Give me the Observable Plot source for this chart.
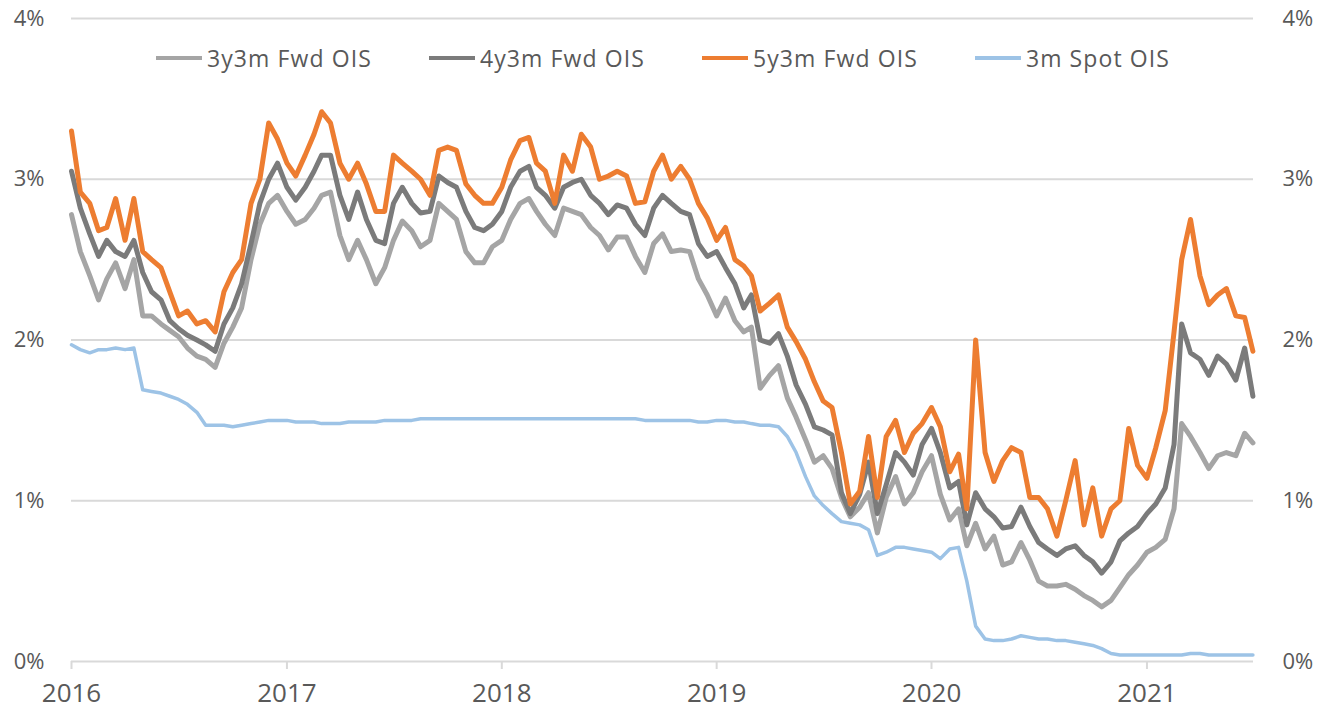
<!DOCTYPE html>
<html><head><meta charset="utf-8">
<script src="https://cdn.jsdelivr.net/npm/d3@7"></script>
<script src="https://cdn.jsdelivr.net/npm/@observablehq/plot@0.6"></script>
<style>
body{margin:0;background:#fff;}
#wrap{position:relative;width:1326px;height:709px;}
#legend{position:absolute;top:42px;left:0;width:1326px;display:flex;justify-content:center;gap:57px;font-family:"Open Sans";font-size:23px;letter-spacing:1.1px;color:#595959;}
.item{display:flex;align-items:center;}
.sw{width:46px;height:4px;margin-right:5px;}
</style></head>
<body><div id="wrap"><div id="legend"></div></div>
<script>
const dates = (
"2016-01-01 2016-01-16 2016-02-01 2016-02-16 2016-03-01 2016-03-16 2016-04-01 2016-04-16 2016-05-01 2016-05-16 2016-06-01 2016-06-16 " +
"2016-07-01 2016-07-16 2016-08-01 2016-08-16 2016-09-01 2016-09-16 2016-10-01 2016-10-16 2016-11-01 2016-11-16 2016-12-01 2016-12-16 " +
"2017-01-01 2017-01-16 2017-02-01 2017-02-16 2017-03-01 2017-03-16 2017-04-01 2017-04-16 2017-05-01 2017-05-16 2017-06-01 2017-06-16 " +
"2017-07-01 2017-07-16 2017-08-01 2017-08-16 2017-09-01 2017-09-16 2017-10-01 2017-10-16 2017-11-01 2017-11-16 2017-12-01 2017-12-16 " +
"2018-01-01 2018-01-16 2018-02-01 2018-02-16 2018-03-01 2018-03-16 2018-04-01 2018-04-16 2018-05-01 2018-05-16 2018-06-01 2018-06-16 " +
"2018-07-01 2018-07-16 2018-08-01 2018-08-16 2018-09-01 2018-09-16 2018-10-01 2018-10-16 2018-11-01 2018-11-16 2018-12-01 2018-12-16 " +
"2019-01-01 2019-01-16 2019-02-01 2019-02-16 2019-03-01 2019-03-16 2019-04-01 2019-04-16 2019-05-01 2019-05-16 2019-06-01 2019-06-16 " +
"2019-07-01 2019-07-16 2019-08-01 2019-08-16 2019-09-01 2019-09-16 2019-10-01 2019-10-16 2019-11-01 2019-11-16 2019-12-01 2019-12-16 " +
"2020-01-01 2020-01-16 2020-02-01 2020-02-16 2020-03-01 2020-03-16 2020-04-01 2020-04-16 2020-05-01 2020-05-16 2020-06-01 2020-06-16 " +
"2020-07-01 2020-07-16 2020-08-01 2020-08-16 2020-09-01 2020-09-16 2020-10-01 2020-10-16 2020-11-01 2020-11-16 2020-12-01 2020-12-16 " +
"2021-01-01 2021-01-16 2021-02-01 2021-02-16 2021-03-01 2021-03-16 2021-04-01 2021-04-16 2021-05-01 2021-05-16 2021-06-01 2021-06-16 2021-06-30"
).split(" ");

const fwd3y3m = [
 2.78,2.55,2.40,2.25,2.38,2.48,2.32,2.50,2.15,2.15,2.10,2.06,2.02,1.95,1.90,1.88,1.83,1.98,2.08,2.20,2.50,2.72,2.85,2.90,
 2.80,2.72,2.75,2.82,2.90,2.92,2.65,2.50,2.62,2.50,2.35,2.45,2.62,2.74,2.68,2.58,2.62,2.85,2.80,2.75,2.55,2.48,2.48,2.58,
 2.62,2.75,2.85,2.88,2.80,2.72,2.65,2.82,2.80,2.78,2.70,2.65,2.56,2.64,2.64,2.52,2.42,2.60,2.66,2.55,2.56,2.55,2.38,2.28,
 2.15,2.26,2.12,2.05,2.08,1.70,1.78,1.84,1.64,1.52,1.38,1.24,1.28,1.20,1.02,0.90,0.96,1.05,0.80,1.02,1.15,0.98,1.05,1.18,
 1.28,1.04,0.88,0.95,0.72,0.86,0.70,0.78,0.60,0.62,0.74,0.63,0.50,0.47,0.47,0.48,0.45,0.41,0.38,0.34,0.38,0.46,0.54,0.60,
 0.68,0.71,0.76,0.95,1.48,1.40,1.30,1.20,1.28,1.30,1.28,1.42,1.36
];
const fwd4y3m = [
 3.05,2.82,2.66,2.52,2.62,2.55,2.52,2.62,2.42,2.30,2.25,2.12,2.07,2.03,2.00,1.97,1.93,2.10,2.20,2.35,2.60,2.85,3.00,3.10,
 2.95,2.87,2.95,3.05,3.15,3.15,2.90,2.75,2.92,2.75,2.62,2.60,2.85,2.95,2.85,2.79,2.80,3.02,2.98,2.95,2.80,2.70,2.68,2.72,
 2.80,2.95,3.05,3.08,2.95,2.90,2.82,2.95,2.98,3.00,2.90,2.85,2.78,2.84,2.82,2.72,2.65,2.82,2.90,2.85,2.80,2.78,2.60,2.52,
 2.55,2.45,2.35,2.20,2.28,2.00,1.98,2.04,1.90,1.72,1.60,1.46,1.44,1.41,1.05,0.92,1.04,1.24,0.92,1.10,1.30,1.24,1.16,1.35,
 1.45,1.30,1.08,1.12,0.85,1.05,0.95,0.90,0.83,0.84,0.96,0.84,0.74,0.70,0.66,0.70,0.72,0.66,0.62,0.55,0.62,0.75,0.80,0.84,
 0.92,0.98,1.08,1.35,2.10,1.92,1.88,1.78,1.90,1.85,1.75,1.95,1.65
];
const fwd5y3m = [
 3.30,2.92,2.85,2.68,2.70,2.88,2.62,2.88,2.55,2.50,2.45,2.30,2.15,2.18,2.10,2.12,2.05,2.30,2.42,2.50,2.85,3.00,3.35,3.25,
 3.10,3.02,3.15,3.28,3.42,3.35,3.10,3.00,3.10,2.97,2.80,2.80,3.15,3.10,3.05,3.00,2.90,3.18,3.20,3.18,2.97,2.90,2.85,2.85,
 2.95,3.12,3.24,3.26,3.10,3.05,2.85,3.15,3.05,3.28,3.20,3.00,3.02,3.05,3.02,2.85,2.86,3.05,3.15,3.00,3.08,3.00,2.85,2.76,
 2.62,2.70,2.50,2.46,2.40,2.18,2.23,2.28,2.08,1.99,1.88,1.74,1.62,1.58,1.30,0.98,1.06,1.40,1.02,1.40,1.50,1.30,1.42,1.48,
 1.58,1.46,1.18,1.29,0.95,2.00,1.30,1.12,1.25,1.33,1.30,1.02,1.02,0.95,0.78,1.00,1.25,0.85,1.08,0.78,0.95,1.00,1.45,1.22,
 1.14,1.33,1.56,2.05,2.50,2.75,2.40,2.22,2.28,2.32,2.15,2.14,1.93
];
const spot3m = [
 1.97,1.94,1.92,1.94,1.94,1.95,1.94,1.95,1.69,1.68,1.67,1.65,1.63,1.60,1.55,1.47,1.47,1.47,1.46,1.47,1.48,1.49,1.50,1.50,
 1.50,1.49,1.49,1.49,1.48,1.48,1.48,1.49,1.49,1.49,1.49,1.50,1.50,1.50,1.50,1.51,1.51,1.51,1.51,1.51,1.51,1.51,1.51,1.51,
 1.51,1.51,1.51,1.51,1.51,1.51,1.51,1.51,1.51,1.51,1.51,1.51,1.51,1.51,1.51,1.51,1.50,1.50,1.50,1.50,1.50,1.50,1.49,1.49,
 1.50,1.50,1.49,1.49,1.48,1.47,1.47,1.46,1.40,1.30,1.15,1.03,0.97,0.92,0.87,0.86,0.85,0.82,0.66,0.68,0.71,0.71,0.70,0.69,
 0.68,0.64,0.70,0.71,0.50,0.22,0.14,0.13,0.13,0.14,0.16,0.15,0.14,0.14,0.13,0.13,0.12,0.11,0.10,0.08,0.05,0.04,0.04,0.04,
 0.04,0.04,0.04,0.04,0.04,0.05,0.05,0.04,0.04,0.04,0.04,0.04,0.04
];

const seriesNames = ["3y3m Fwd OIS","4y3m Fwd OIS","5y3m Fwd OIS","3m Spot OIS"];
const seriesColors = ["#a5a5a5","#7b7b7b","#ed7d31","#9dc3e6"];
const seriesValues = [fwd3y3m, fwd4y3m, fwd5y3m, spot3m];
const seriesWidths = [5, 5, 5, 3.5];
const yTicks = [0, 1, 2, 3, 4];
const xTicks = ["2016-01-01","2017-01-01","2018-01-01","2019-01-01","2020-01-01","2021-01-01"];

const parse = d3.utcParse("%Y-%m-%d");
const tables = seriesValues.map((vals, i) =>
  dates.map((d, j) => ({date: parse(d), value: vals[j], series: seriesNames[i]})));

const chart = Plot.plot({
  width: 1326, height: 709,
  marginLeft: 71, marginRight: 73, marginTop: 18, marginBottom: 48,
  style: {fontFamily: "Open Sans", fontSize: "22px", color: "#595959", background: "#fff", overflow: "visible"},
  x: {type: "utc", domain: [parse("2016-01-01"), parse("2021-07-01")]},
  y: {domain: [0, 4]},
  marks: [
    Plot.ruleY(yTicks, {stroke: "#d9d9d9", strokeWidth: 2}),
    Plot.axisY({anchor: "left", ticks: yTicks, tickSize: 0, tickPadding: 27, tickFormat: d => d + "%", label: null, fontSize: 22, fill: "#595959"}),
    Plot.axisY({anchor: "right", ticks: yTicks, tickSize: 0, tickPadding: 29, tickFormat: d => d + "%", label: null, fontSize: 22, fill: "#595959"}),
    Plot.axisX({ticks: xTicks.map(parse), tickSize: 8, stroke: "#d9d9d9", strokeWidth: 2, tickPadding: 14, tickFormat: d3.utcFormat("%Y"), label: null, fontSize: 26, fill: "#595959"}),
    ...tables.map((t, i) => Plot.lineY(t, {x: "date", y: "value", stroke: seriesColors[i], strokeWidth: seriesWidths[i], strokeLinejoin: "round", strokeLinecap: "round"}))
  ]
});
document.getElementById("wrap").prepend(chart);

const legend = document.getElementById("legend");
seriesNames.forEach((name, i) => {
  const item = document.createElement("div");
  item.className = "item";
  const sw = document.createElement("span");
  sw.className = "sw";
  sw.style.background = seriesColors[i];
  const label = document.createElement("span");
  label.textContent = name;
  item.append(sw, label);
  legend.append(item);
});
</script>
</body></html>
